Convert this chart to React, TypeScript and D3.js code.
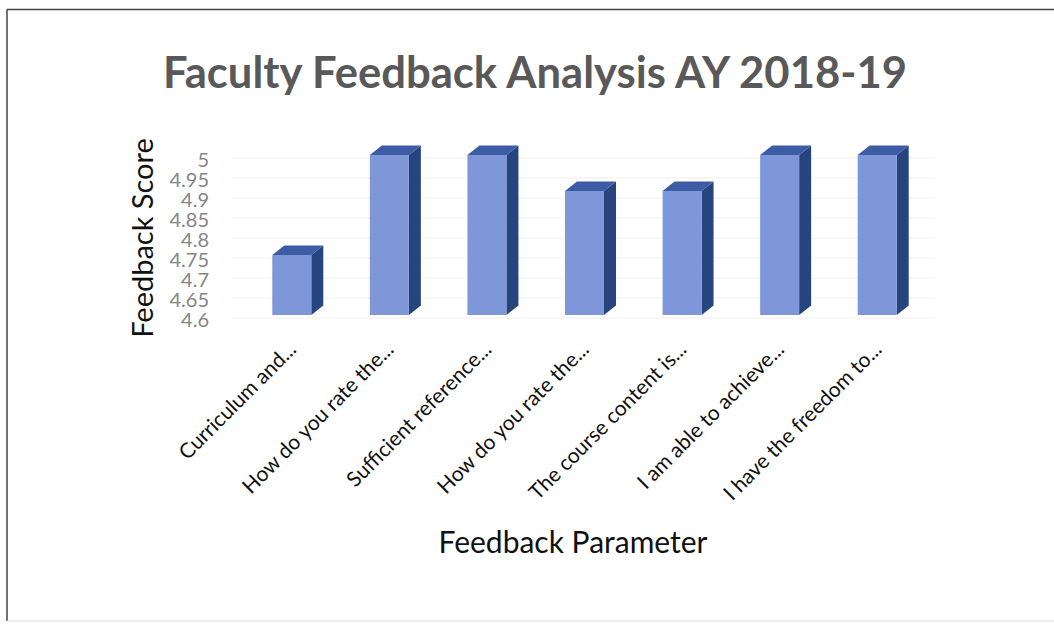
import React from "react";
import * as d3 from "d3";

const categories = [
  "Curriculum and...",
  "How do you rate the...",
  "Sufficient reference...",
  "How do you rate the... ",
  "The course content is...",
  "I am able to achieve...",
  "I have the freedom to...",
];
const scores = [4.75, 5.0, 5.0, 4.91, 4.91, 5.0, 5.0];
const yTicks = [4.6, 4.65, 4.7, 4.75, 4.8, 4.85, 4.9, 4.95, 5];

const W = 1054;
const H = 625;
const FONT = "Lato, 'Open Sans', sans-serif";

export default function App() {
  const x = d3.scaleBand<string>().domain(categories).range([243, 926]).padding(0);
  const y = d3.scaleLinear().domain([4.6, 5]).range([315, 155]);
  const barW = 39;
  const dx = 12;
  const dy = 9.5;
  const base = y(4.6);
  const fmt = (v: number) => d3.format("")(+v.toFixed(2));

  return (
    <svg
      width={W}
      height={H}
      style={{ position: "absolute", left: 0, top: 0, background: "#fff" }}
    >
      <rect x={0} y={0} width={W} height={H} fill="#fff" />
      <line x1={7} x2={7} y1={9.5} y2={621} stroke="#444" strokeWidth={1.5} />
      <line x1={7} x2={W} y1={9.5} y2={9.5} stroke="#444" strokeWidth={1.5} />
      <line x1={7} x2={W} y1={621} y2={621} stroke="#ddd" strokeWidth={1} />

      <text
        x={535}
        y={88}
        textAnchor="middle"
        fontFamily={FONT}
        fontWeight="bold"
        fontSize={43}
        textLength={744}
        lengthAdjust="spacingAndGlyphs"
        fill="#595959"
      >
        Faculty Feedback Analysis AY 2018-19
      </text>

      {/* gridlines on back wall */}
      {yTicks.map((t) => (
        <line
          key={"g" + t}
          x1={232}
          x2={935}
          y1={y(t) + 3}
          y2={y(t) + 3}
          stroke="#f2eef0"
          strokeWidth={1}
        />
      ))}

      {/* y tick labels */}
      {yTicks.map((t) => (
        <text
          key={"t" + t}
          x={209}
          y={y(t) + 7}
          textAnchor="end"
          dominantBaseline="middle"
          fontFamily={FONT}
          fontSize={20}
          fill="#858585"
        >
          {fmt(t)}
        </text>
      ))}

      <text
        transform={`translate(153,238) rotate(-90)`}
        textAnchor="middle"
        fontFamily={FONT}
        fontSize={29}
        fill="#111"
      >
        Feedback Score
      </text>

      {/* bars */}
      {categories.map((c, i) => {
        const cx = (x(c) as number) + x.bandwidth() / 2;
        const x0 = cx - barW / 2;
        const x1 = cx + barW / 2;
        const top = y(scores[i]);
        return (
          <g key={"b" + i}>
            <polygon
              points={`${x1},${top} ${x1 + dx},${top - dy} ${x1 + dx},${base - dy} ${x1},${base}`}
              fill="#26457f"
            />
            <polygon
              points={`${x0},${top} ${x0 + dx},${top - dy} ${x1 + dx},${top - dy} ${x1},${top}`}
              fill="#3c5ca6"
            />
            <rect x={x0} y={top} width={barW} height={base - top} fill="#7d97d8" />
          </g>
        );
      })}

      {/* x labels */}
      {categories.map((c, i) => {
        const cx = (x(c) as number) + x.bandwidth() / 2;
        return (
          <text
            key={"x" + i}
            transform={`translate(${cx + 2},${347}) rotate(-45)`}
            textAnchor="end"
            dominantBaseline="middle"
            fontFamily={FONT}
            fontSize={21}
            fill="#111"
          >
            {c.trim()}
          </text>
        );
      })}

      <text
        x={573}
        y={553}
        textAnchor="middle"
        fontFamily={FONT}
        fontSize={30}
        fill="#111"
      >
        Feedback Parameter
      </text>
    </svg>
  );
}
